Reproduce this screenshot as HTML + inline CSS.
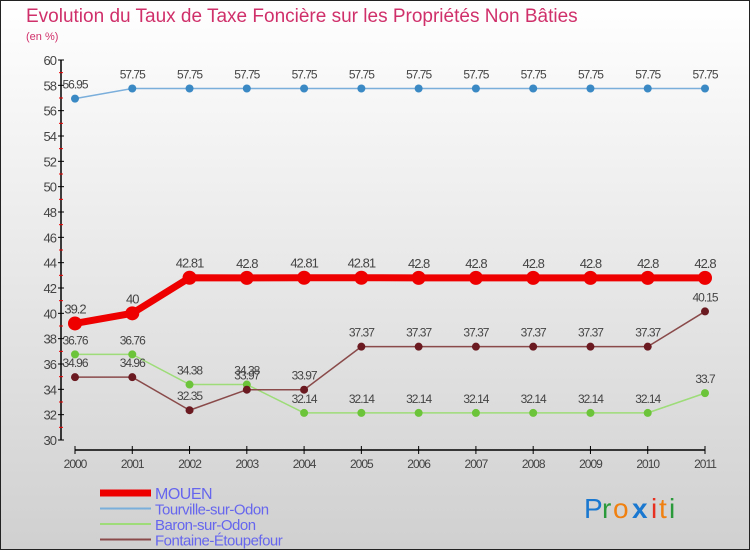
<!DOCTYPE html>
<html><head><meta charset="utf-8"><style>
body{margin:0}
#c{width:750px;height:550px;position:relative;overflow:hidden;font-family:"Liberation Sans",sans-serif}
</style></head><body>
<div id="c">
<svg id="s" width="750" height="550" xmlns="http://www.w3.org/2000/svg">
<defs><linearGradient id="bg" x1="0" y1="0" x2="0" y2="1"><stop offset="0" stop-color="#ffffff"/><stop offset="1" stop-color="#d0d0d0"/></linearGradient></defs>
<rect x="0.5" y="0.5" width="749" height="549" fill="url(#bg)" stroke="#222"/>
<text x="26" y="22" font-size="19" fill="#d0306a">Evolution du Taux de Taxe Foncière sur les Propriétés Non Bâties</text>
<text x="26" y="40" font-size="11" fill="#d0306a">(en %)</text>
<g id="axes"></g><g id="series"></g><g id="legend"></g>
<g font-size="28" font-family="'Liberation Sans',sans-serif">
<text x="584" y="518" fill="#1a78d0">P</text><text x="602" y="518" fill="#2a9a3a">r</text><text x="613" y="518" fill="#f08010">o</text><text x="632" y="518" fill="#1a78d0" font-weight="bold">x</text><text x="651" y="518" fill="#e83020">i</text><text x="659" y="518" fill="#f08010">t</text><text x="669" y="518" fill="#2a9a3a">i</text>
</g>
</svg>
</div>
<script>
const years=["2000","2001","2002","2003","2004","2005","2006","2007","2008","2009","2010","2011"];
const mouen=[39.2,40,42.81,42.8,42.81,42.81,42.8,42.8,42.8,42.8,42.8,42.8];
const mouenLabels=["39.2","40","42.81","42.8","42.81","42.81","42.8","42.8","42.8","42.8","42.8","42.8"];
const tourville=[56.95,57.75,57.75,57.75,57.75,57.75,57.75,57.75,57.75,57.75,57.75,57.75];
const baron=[36.76,36.76,34.38,34.38,32.14,32.14,32.14,32.14,32.14,32.14,32.14,33.7];
const fontaine=[34.96,34.96,32.35,33.97,33.97,37.37,37.37,37.37,37.37,37.37,37.37,40.15];
const yTicks=[30,32,34,36,38,40,42,44,46,48,50,52,54,56,58,60];
const names=["MOUEN","Tourville-sur-Odon","Baron-sur-Odon","Fontaine-Étoupefour"];
const NS="http://www.w3.org/2000/svg";
const X=i=>75+i*(630/11), Y=v=>440-(v-30)*(380/30);
function mk(t,a,p){const e=document.createElementNS(NS,t);for(const k in a)e.setAttribute(k,a[k]);p.appendChild(e);return e;}
const ax=document.getElementById('axes');
let e=mk('line',{x1:61,y1:60,x2:61,y2:440,stroke:'#000','stroke-width':1.5},ax);

e=mk('line',{x1:X(0),y1:450,x2:X(11),y2:450,stroke:'#000','stroke-width':1.5},ax);

yTicks.forEach(v=>{mk('line',{x1:58,x2:64,y1:Y(v),y2:Y(v),stroke:'#000'},ax);
 if(v<60)mk('line',{x1:59,x2:63,y1:Y(v+1),y2:Y(v+1),stroke:'#e00'},ax);
 const t=mk('text',{x:56,y:Y(v)+5,'text-anchor':'end','font-size':13,fill:'#444','letter-spacing':'-1'},ax);t.textContent=v;
 });
years.forEach((y,i)=>{mk('line',{x1:X(i),x2:X(i),y1:446,y2:454,stroke:'#000'},ax);
 const t=mk('text',{x:X(i),y:468,'text-anchor':'middle','font-size':12,fill:'#444','letter-spacing':'-1'},ax);t.textContent=y;
 });
const sg=document.getElementById('series');
function series(vals,labels,color,dot,w,r,name,fs){
 const g=mk('g',{},sg);
 mk('polyline',{points:vals.map((v,i)=>X(i)+','+Y(v)).join(' '),fill:'none',stroke:color,'stroke-width':w,'stroke-linejoin':'round'},g);
 vals.forEach((v,i)=>{const c=mk('circle',{cx:X(i),cy:Y(v),r:r,fill:dot},g);
  
  const t=mk('text',{x:X(i),y:Y(v)-10,'text-anchor':'middle','font-size':fs,fill:'#444','letter-spacing':'-1'},g);
  t.textContent=labels?labels[i]:String(v);});
}
series(tourville,tourville.map(v=>v.toFixed(2)),'#7aaedb','#3a88c4',1.5,4,'tourville-series',12);
series(baron,null,'#9ddc78','#6cc43a',1.5,4,'baron-series',12);
series(fontaine,null,'#8a4a4a','#6a1a20',1.5,4,'fontaine-series',12);
series(mouen,mouenLabels,'#ee0000','#ee0000',7,7,'mouen-series',13);
const lg=document.getElementById('legend');
const lc=['#ee0000','#7aaedb','#9ddc78','#8a4a4a'],lw=[7,2,2,2];
names.forEach((n,i)=>{const y=492+i*15.5;
 const g=mk('g',{},lg);
 mk('line',{x1:100,x2:151,y1:y+1,y2:y+1,stroke:lc[i],'stroke-width':lw[i]},g);
 const t=mk('text',{x:155,y:y+7,'font-size':i==0?16:15,fill:'#6666ee','letter-spacing':'-0.5'},g);t.textContent=n;});
</script>
</body></html>
